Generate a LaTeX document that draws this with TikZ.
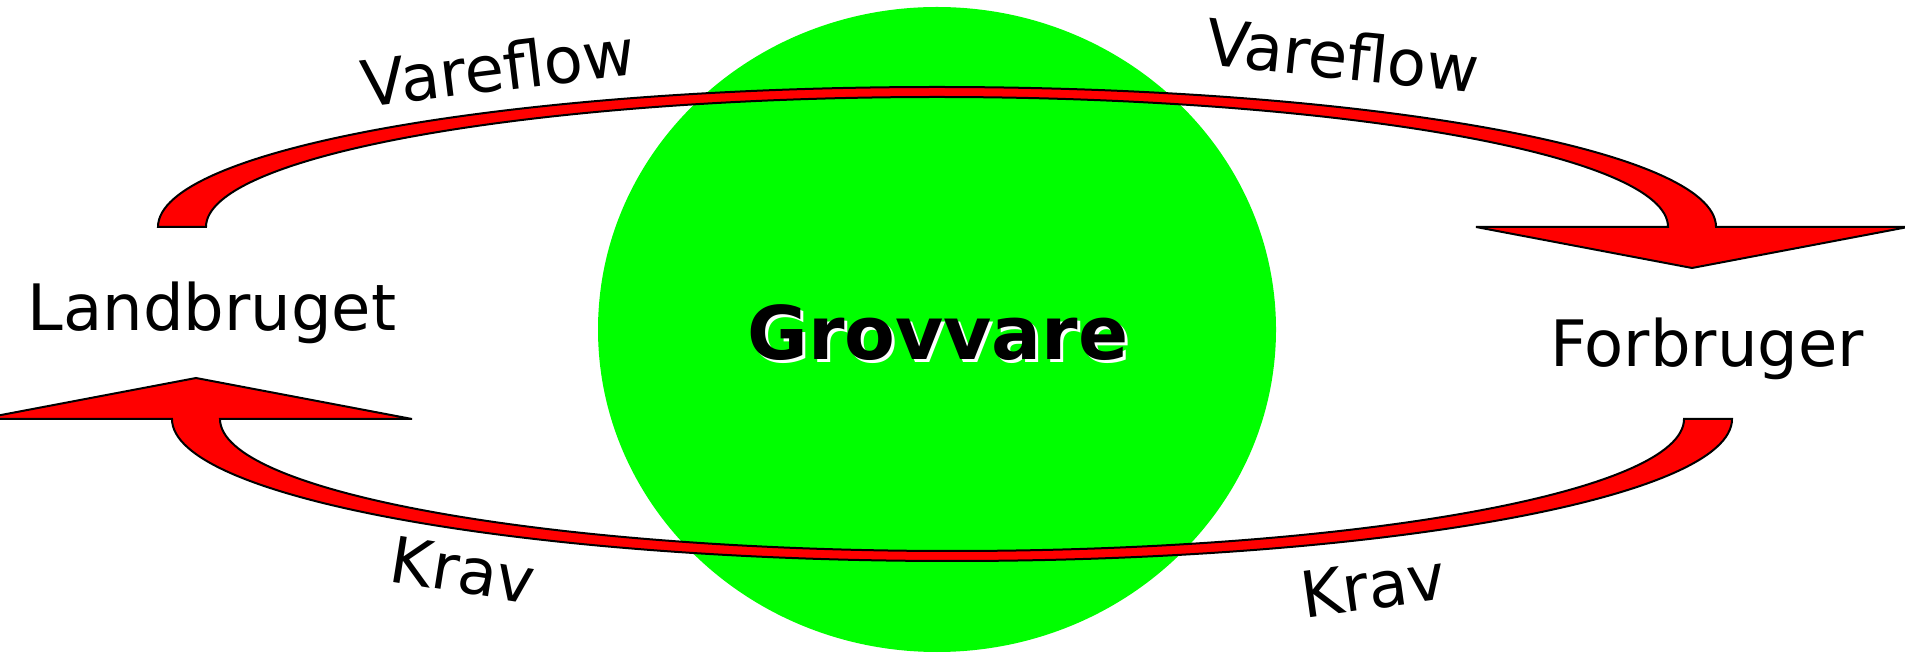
\documentclass[tikz,border=0pt]{standalone}
\usepackage{fontspec}
\setmainfont{DejaVu Sans}
\usetikzlibrary{positioning}

\begin{document}
\begin{tikzpicture}[
    x=0.5pt, y=0.5pt,
    flowarrow/.style={draw=black, line width=1pt, fill=red, line join=miter},
    flowtext/.style={font=\fontsize{32}{38}\selectfont, inner sep=0pt},
    party/.style={font=\fontsize{32}{38}\selectfont, inner sep=0pt, anchor=base},
    grovtext/.style={font=\fontsize{37}{44}\selectfont\bfseries, inner sep=0pt, anchor=base}
  ]
  \useasboundingbox (0,0) rectangle (1905,653);
  \clip (0,0) rectangle (1905,653);

  % Grovvare in the middle
  \fill[green] (937,323.5) ellipse [x radius=339, y radius=322.5];

  % Vareflow: Landbruget -> Forbruger
  \draw[flowarrow] (206,426) arc[start angle=180, end angle=0, x radius=731, y radius=130]
    -- (1476,426) -- (1692,385) -- (1908,426) -- (1716,426)
    arc[start angle=0, end angle=180, x radius=779, y radius=140] -- cycle;

  % Krav: Forbruger -> Landbruget
  \draw[flowarrow] (1684,234) arc[start angle=0, end angle=-180, x radius=732, y radius=132]
    -- (412,234) -- (196,275) -- (-20,234) -- (172,234)
    arc[start angle=180, end angle=360, x radius=780, y radius=142] -- cycle;

  \node[party] (land) at (212,322) {Landbruget};
  \node[party] (forb) at (1707,286) {Forbruger};

  \node[grovtext, text=white] (grovshadow) at (941,290) {Grovvare};
  \node[grovtext] (grov) at (938,293) {Grovvare};

  \node[flowtext, rotate=7] (vareL) at (498,586) {Vareflow};
  \node[flowtext, rotate=-6] (vareR) at (1343,598) {Vareflow};
  \node[flowtext, rotate=-9] (kravL) at (463,83) {Krav};
  \node[flowtext, rotate=8] (kravR) at (1373,67) {Krav};
\end{tikzpicture}
\end{document}
